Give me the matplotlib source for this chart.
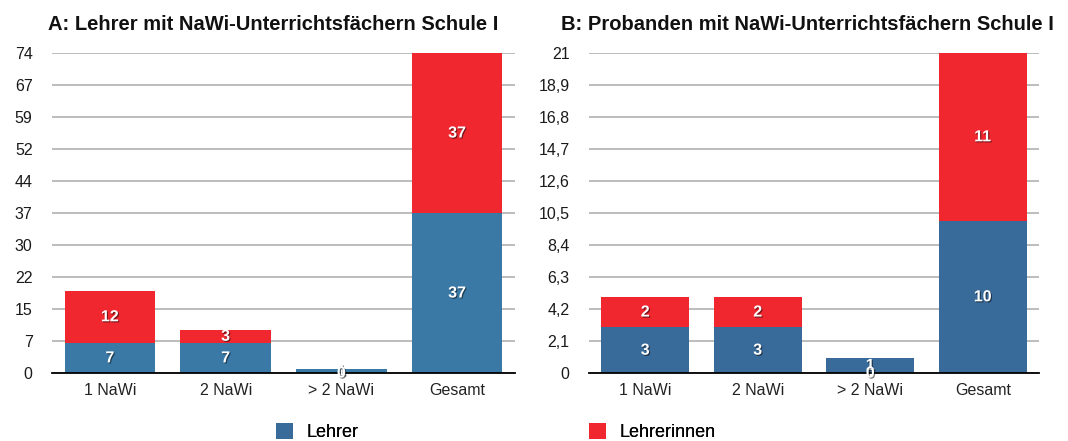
import matplotlib
matplotlib.use("Agg")
import matplotlib.pyplot as plt
import matplotlib.patheffects as pe
from matplotlib.patches import Patch
import numpy as np

plt.rcParams['font.family'] = ['Liberation Sans', 'DejaVu Sans']

categories = ["1 NaWi", "2 NaWi", "> 2 NaWi", "Gesamt"]
series_names = ["Lehrer", "Lehrerinnen"]

a_title = "A: Lehrer mit NaWi-Unterrichtsfächern Schule I"
a_lehrer = [7, 7, 1, 37]
a_lehrerinnen = [12, 3, 0, 37]
a_ymax = 74
a_ticklabels = ["0", "7", "15", "22", "30", "37", "44", "52", "59", "67", "74"]

b_title = "B: Probanden mit NaWi-Unterrichtsfächern Schule I"
b_lehrer = [3, 3, 1, 10]
b_lehrerinnen = [2, 2, 0, 11]
b_ymax = 21
b_ticklabels = ["0", "2,1", "4,2", "6,3", "8,4", "10,5", "12,6", "14,7", "16,8", "18,9", "21"]

red = "#f0272f"
blue_a = "#3a78a6"
blue_b = "#386a9a"

fig = plt.figure(figsize=(10.68, 4.41), dpi=100)
W, H = 1068, 441

def px_axes(l, t, r, b):
    return fig.add_axes([l / W, 1 - b / H, (r - l) / W, (b - t) / H])

shadow = [pe.withSimplePatchShadow(offset=(0.8, -0.8), shadow_rgbFace='k', alpha=0.5)]

def draw(ax, title, lehrer, lehrerinnen, ymax, ticklabels, blue, title_x):
    x = np.arange(len(categories))
    ax.bar(x, lehrer, width=0.78, color=blue, zorder=2)
    ax.bar(x, lehrerinnen, width=0.78, bottom=lehrer, color=red, zorder=2)
    ax.set_xlim(-0.5, len(categories) - 0.5)
    ax.set_ylim(0, ymax)
    ticks = np.linspace(0, ymax, len(ticklabels))
    ax.set_yticks(ticks)
    ax.set_yticklabels(ticklabels, fontsize=11.5)
    ax.grid(axis='y', color='#bcbcbc', linewidth=1.4, zorder=0)
    ax.set_axisbelow(True)
    for s in ['top', 'right', 'left']:
        ax.spines[s].set_visible(False)
    ax.spines['bottom'].set_color('black')
    ax.spines['bottom'].set_linewidth(1.3)
    ax.spines['bottom'].set_zorder(3)
    ax.tick_params(axis='y', length=0, pad=14, labelcolor='#1a1a1a')
    ax.tick_params(axis='x', length=0, pad=7, labelsize=11.5, labelcolor='#222222')
    ax.set_xticks(x)
    ax.set_xticklabels(categories)
    for i in range(len(categories)):
        lv, rv = lehrer[i], lehrerinnen[i]
        ax.text(x[i], lv / 2, str(lv), ha='center', va='center', color='white',
                fontsize=11.5, fontweight='bold', path_effects=shadow, zorder=4)
        ry = lv + rv / 2 if rv > 0 else 0
        ax.text(x[i], ry, str(rv), ha='center', va='center', color='white',
                fontsize=11.5, fontweight='bold', path_effects=shadow, zorder=4)
    fig.text(title_x / W, 1 - 25 / H, title, ha='center', va='center',
             fontsize=14.5, fontweight='bold', color='#111111')

ax1 = px_axes(52, 53, 515, 373)
draw(ax1, a_title, a_lehrer, a_lehrerinnen, a_ymax, a_ticklabels, blue_a, 273)
ax2 = px_axes(589, 53, 1039, 373)
draw(ax2, b_title, b_lehrer, b_lehrerinnen, b_ymax, b_ticklabels, blue_b, 807)

# legend entries placed separately
for name, col, xpos in [(series_names[0], blue_b, 276), (series_names[1], red, 589)]:
    leg = fig.legend(handles=[Patch(facecolor=col, label=name)], labels=[name],
                     loc='center left', bbox_to_anchor=(xpos / W, 1 - 432 / H),
                     frameon=False, fontsize=13, handlelength=0.95, handleheight=1.05,
                     handletextpad=0.75, borderpad=0, borderaxespad=0)
    fig.add_artist(leg)

fig.savefig("out.png", dpi=100)
